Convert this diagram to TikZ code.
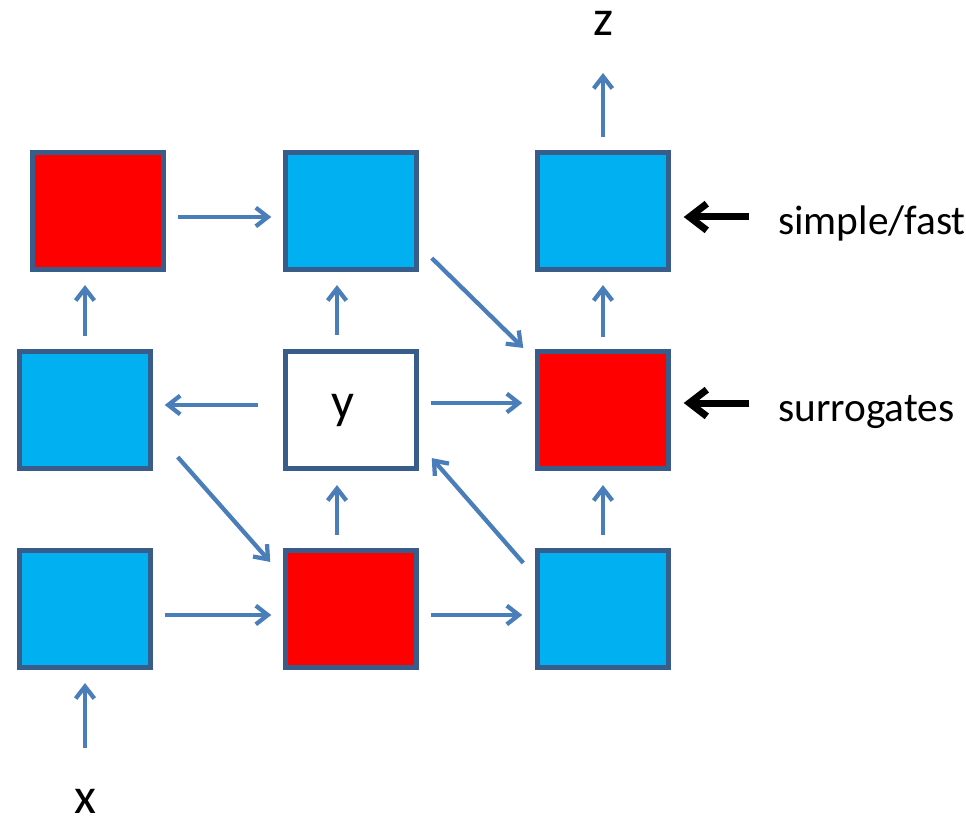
\documentclass[tikz,border=0pt]{standalone}
\usepackage{fontspec}
\setmainfont{Carlito}
\usepackage{tikz}
\usetikzlibrary{arrows.meta,positioning,calc}

\definecolor{boxline}{HTML}{385D8A}
\definecolor{flowblue}{HTML}{4A7EBB}
\definecolor{fastblue}{HTML}{00B0F0}
\definecolor{surred}{HTML}{FF0000}

\tikzset{
	cell/.style={draw=boxline,
		line width=3.6pt,
		minimum width=98pt,
		minimum height=88pt,
		inner sep=0pt},
	fastcell/.style={cell, fill=fastblue},
	surcell/.style={cell, fill=surred},
	flow/.style={draw=flowblue,
		line width=3.2pt,
		-{Straight Barb[length=9pt,width=14pt]}},
	note/.style={draw=black,
		line width=5.25pt,
		-{Straight Barb[length=13pt,width=20pt]}},
	lbl/.style={inner sep=0pt, font=\fontsize{38}{40}\selectfont},
	side/.style={inner sep=0pt, font=\fontsize{31}{36}\selectfont}
}

\begin{document}
\begin{tikzpicture}[x=0.75pt,y=-0.75pt]
		\useasboundingbox (0,0) rectangle (966,823);

		% top row
		\node[surcell] (a11) at (98,211) {};
		\node[fastcell] (a12) at (351,211) {};
		\node[fastcell] (a13) at (603,211) {};

		% middle row
		\node[fastcell] (a21) at (85,410) {};
		\node[cell, fill=white] (a22) at (351,410) {};
		\node[surcell] (a23) at (603,410) {};

		% bottom row
		\node[fastcell] (a31) at (85,609) {};
		\node[surcell] (a32) at (351,609) {};
		\node[fastcell] (a33) at (603,609) {};

		\node[lbl] (ylbl) at ($(a22)+(-8,0)$) {y};
		\node[lbl, anchor=base] (z) at (603,36) {z};
		\node[lbl, anchor=base] (x) at (85,813) {x};
		\node[side, anchor=base west] (simple) at (778,235) {simple/fast};
		\node[side, anchor=base west] (surr) at (778,421) {surrogates};

		\draw[flow] ($(x.base)+(0,-65)$) -- ($(a31.south)+(0,13)$);
		\draw[flow] ($(a31.east)+(12,6)$) -- ($(a32.west)+(-12,6)$);
		\draw[flow] ($(a32.east)+(12,6)$) -- ($(a33.west)+(-13,6)$);
		\draw[flow] ($(a32.north)+(-14,-13)$) -- ($(a22.south)+(-14,14)$);
		\draw[flow] ($(a33.north)+(0,-13)$) -- ($(a23.south)+(0,14)$);
		\draw[flow] ($(a33.north west)+(-12,15)$) -- ($(a22.south east)+(13,-13)$);
		\draw[flow] ($(a21.south east)+(25,-14)$) -- ($(a32.north west)+(-13,14)$);
		\draw[flow] ($(a22.west)+(-25,-5)$) -- ($(a21.east)+(12,-5)$);
		\draw[flow] ($(a22.east)+(12,-7)$) -- ($(a23.west)+(-13,-7)$);
		\draw[flow] ($(a21.north)+(0,-13)$) -- ($(a21.north |- a11.south)+(0,13)$);
		\draw[flow] ($(a22.north)+(-14,-14)$) -- ($(a12.south)+(-14,13)$);
		\draw[flow] ($(a23.north)+(0,-12)$) -- ($(a13.south)+(0,13)$);
		\draw[flow] ($(a11.east)+(12,6)$) -- ($(a12.west)+(-12,6)$);
		\draw[flow] ($(a12.south east)+(13,-14)$) -- ($(a23.north west)+(-12,-1)$);
		\draw[flow] ($(a13.north)+(0,-13)$) -- ($(z.base)+(0,37)$);

		\draw[note] ($(simple.base west)+(-29,-18)$) -- ($(a13.east)+(13,6)$);
		\draw[note] ($(surr.base west)+(-29,-18)$) -- ($(a23.east)+(13,-7)$);

	\end{tikzpicture}
\end{document}
